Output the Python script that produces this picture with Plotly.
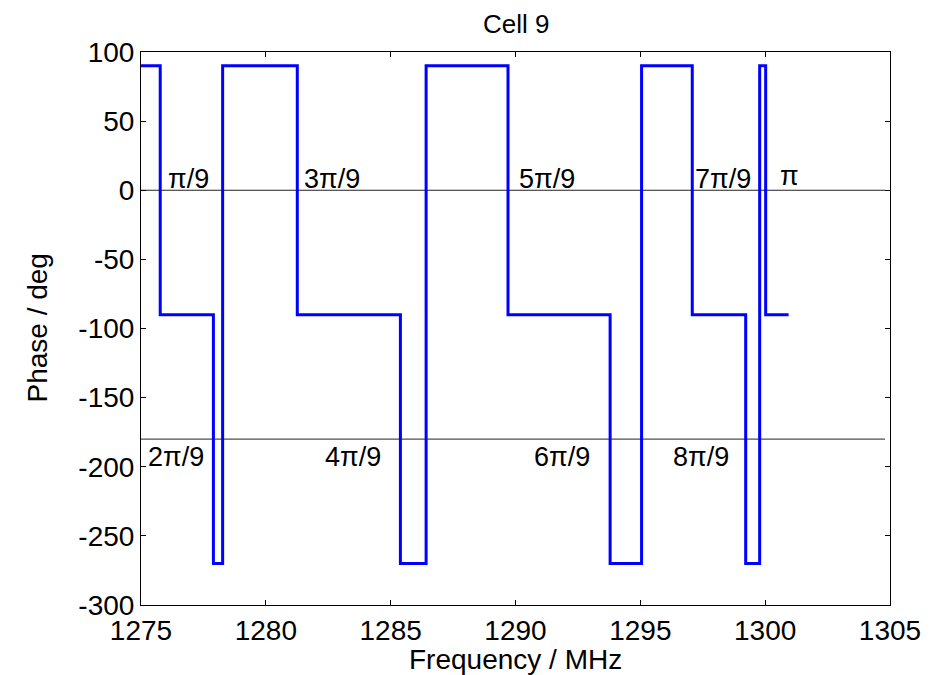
import plotly.graph_objects as go

# Step transitions (MHz) and phase level (deg) held from each transition
freq_steps = [1275.0, 1275.77, 1277.9, 1278.27, 1281.26, 1285.39, 1286.42, 1289.70,
              1293.79, 1295.05, 1297.08, 1299.22, 1299.78, 1300.02, 1300.94]
phase_steps = [90, -90, -270, 90, -90, -270, 90, -90, -270, 90, -90, -270, 90, -90, -90]

# Reference lines
ref_levels = [0, -180]
ref_x = [1275, 1304.8]

# Labels
upper_labels = ["π/9", "3π/9", "5π/9", "7π/9", "π"]
upper_x = [1276.0, 1281.46, 1290.06, 1297.11, 1300.51]
upper_y = [8, 8, 8, 8, 10]
lower_labels = ["2π/9", "4π/9", "6π/9", "8π/9"]
lower_x = [1275.2, 1282.27, 1290.68, 1296.21]
lower_y = [-193, -193, -193, -193]

xticks = [1275, 1280, 1285, 1290, 1295, 1300, 1305]
yticks = [100, 50, 0, -50, -100, -150, -200, -250, -300]

FONT = "Liberation Sans, Arial, sans-serif"
# page has an 8px body offset; plot area target on screen: x 141..890, y 52..605
OFF = 8
W, H = 931 - OFF, 675 - OFF
L, R, T, B = 141 - OFF, 41, 52 - OFF, 70

fig = go.Figure()
for lv in ref_levels:
    fig.add_trace(go.Scatter(x=ref_x, y=[lv, lv], mode="lines",
                             line=dict(color="#222222", width=1), hoverinfo="skip",
                             showlegend=False))
fig.add_trace(go.Scatter(x=freq_steps, y=phase_steps, mode="lines", line_shape="hv",
                         line=dict(color="rgb(0,0,255)", width=3), showlegend=False))

for t, x, y in zip(upper_labels + lower_labels, upper_x + lower_x, upper_y + lower_y):
    fig.add_annotation(x=x, y=y, text=t, showarrow=False, xanchor="left", yanchor="middle",
                       font=dict(family=FONT, size=27, color="black"))

# Title and axis titles as annotations for exact placement
fig.add_annotation(xref="paper", yref="paper", x=0.5, y=1, yanchor="middle", yshift=52 - 24,
                   text="Cell 9", showarrow=False, font=dict(family=FONT, size=26, color="black"))
fig.add_annotation(xref="paper", yref="paper", x=0.5, y=0, yanchor="middle", yshift=-(659 - 605),
                   text="Frequency / MHz", showarrow=False,
                   font=dict(family=FONT, size=28, color="black"))
fig.add_annotation(xref="paper", yref="paper", x=0, y=0.5, xanchor="center", xshift=-(141 - 37),
                   text="Phase / deg", textangle=-90, showarrow=False,
                   font=dict(family=FONT, size=28, color="black"))

axis_common = dict(showline=True, linecolor="black", linewidth=1, mirror="ticks",
                   ticks="inside", ticklen=5, tickcolor="black", showgrid=False,
                   zeroline=False, automargin=False,
                   tickfont=dict(family=FONT, size=28, color="black"))

fig.update_layout(
    width=W, height=H,
    margin=dict(l=L, r=R, t=T, b=B),
    plot_bgcolor="white", paper_bgcolor="white",
    xaxis=dict(range=[1275, 1305], tickvals=xticks, ticktext=[str(v) for v in xticks],
               **axis_common),
    yaxis=dict(range=[-300, 100], tickvals=yticks, ticktext=[str(v) for v in yticks],
               **axis_common),
)

fig.write_html("out.html")
